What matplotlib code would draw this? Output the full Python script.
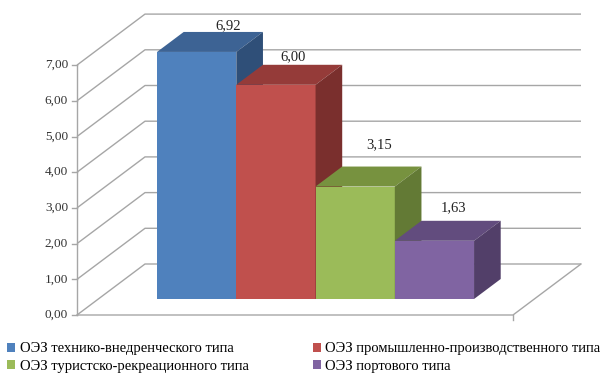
import matplotlib
matplotlib.use('Agg')
import matplotlib.pyplot as plt
from matplotlib.patches import Polygon, Patch

# ---- data ----
categories = ['ОЭЗ технико-внедренческого типа',
              'ОЭЗ промышленно-производственного типа',
              'ОЭЗ туристско-рекреационного типа',
              'ОЭЗ портового типа']
values = [6.92, 6.00, 3.15, 1.63]
value_labels = ['6,92', '6,00', '3,15', '1,63']
y_ticks = [0, 1, 2, 3, 4, 5, 6, 7]
y_tick_labels = ['0,00', '1,00', '2,00', '3,00', '4,00', '5,00', '6,00', '7,00']

# ---- styles ----
front_colors = ['#4F81BD', '#C0504D', '#9BBB59', '#8064A2']
top_colors = ['#3D6394', '#953B39', '#77923F', '#624C7E']
side_colors = ['#2F4F78', '#7A2F2D', '#637A35', '#523F69']
label_offsets = [(23, 19), (12, 20), (17, 30), (14, 24)]  # points
grid_c = '#A6A6A6'

plt.rcParams['font.family'] = ['Liberation Serif', 'DejaVu Serif']

W, H = 611, 385
fig = plt.figure(figsize=(W / 100, H / 100), dpi=100)
ax = fig.add_axes([0, 0, 1, 1])

# scale: 1 category = PX_X pixels, 1 value unit = PX_Y pixels
PX_X, PX_Y = 79.25, 35.7
x0_px, y0_px = 135.7, 70
ax.set_xlim(-x0_px / PX_X, (W - x0_px) / PX_X)
ax.set_ylim(-y0_px / PX_Y, (H - y0_px) / PX_Y)
ax.axis('off')

DX, DY = 68 / PX_X, 51 / PX_Y          # full depth vector
front_x = (77 - x0_px) / PX_X
right_x = (513 - x0_px) / PX_X
tick_len = 5 / PX_X

# walls & gridlines
for t, lab in zip(y_ticks, y_tick_labels):
    ax.plot([front_x, front_x + DX, right_x + DX], [t, t + DY, t + DY],
            color=grid_c, lw=1, zorder=1, solid_capstyle='butt')
    ax.plot([front_x - tick_len, front_x], [t, t], color=grid_c, lw=1, zorder=1)
    ax.text(front_x - tick_len - 4 / PX_X, t, lab, ha='right', va='center',
            fontsize=9.5, color='#333333')
ax.plot([front_x, front_x], [y_ticks[0], y_ticks[-1]], color=grid_c, lw=1, zorder=1)
ax.plot([front_x, right_x, right_x + DX], [0, 0, DY], color=grid_c, lw=1, zorder=1)
ax.plot([right_x, right_x], [0, -5 / PX_Y], color=grid_c, lw=1, zorder=1)

# bars
d0, d1 = 0.314, 0.706
bdx, bdy = (d1 - d0) * DX, (d1 - d0) * DY
for i, v in enumerate(values):
    xl = i + d0 * DX
    xr = i + 1 + d0 * DX
    yb = d0 * DY
    yt = v + d0 * DY
    z = 3 + i
    ax.add_patch(Polygon([(xl, yb), (xr, yb), (xr, yt), (xl, yt)], closed=True,
                         facecolor=front_colors[i], edgecolor='none', zorder=z))
    ax.add_patch(Polygon([(xl, yt), (xr, yt), (xr + bdx, yt + bdy), (xl + bdx, yt + bdy)],
                         closed=True, facecolor=top_colors[i], edgecolor='none', zorder=z))
    ax.add_patch(Polygon([(xr, yb), (xr + bdx, yb + bdy), (xr + bdx, yt + bdy), (xr, yt)],
                         closed=True, facecolor=side_colors[i], edgecolor='none', zorder=z))
    ax.annotate(value_labels[i], ((xl + xr) / 2, yt), xytext=label_offsets[i],
                textcoords='offset points', ha='center', va='center',
                fontsize=10.5, color='#222222', zorder=10)

# legend (row-wise order like Excel)
handles = [Patch(facecolor=front_colors[k], edgecolor='none') for k in range(4)]
order = [0, 2, 1, 3]
fig.legend([handles[k] for k in order], [categories[k] for k in order],
           loc='center left', bbox_to_anchor=(0.012, 0.071), ncol=2, frameon=False,
           fontsize=10.5, handlelength=0.55, handleheight=0.55, handletextpad=0.3,
           columnspacing=4.4, labelspacing=0.3, borderpad=0, borderaxespad=0)

fig.savefig('out.png', dpi=100)
